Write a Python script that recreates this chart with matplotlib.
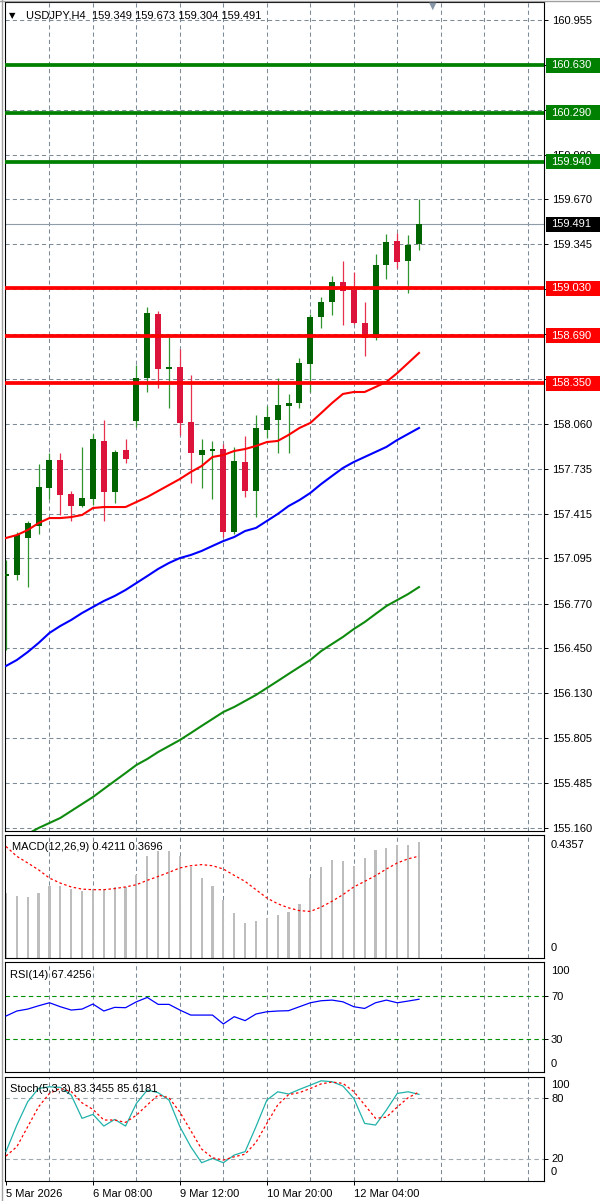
import matplotlib
matplotlib.use('Agg')
import matplotlib.pyplot as plt
import matplotlib.transforms as mtransforms
from matplotlib.patches import Rectangle
from matplotlib.lines import Line2D
import numpy as np

plt.rcParams['font.family'] = ['Liberation Sans', 'DejaVu Sans']

# ---------------- data ----------------
title_text = "USDJPY,H4  159.349 159.673 159.304 159.491"

opens  = [156.967, 156.975, 157.240, 157.326, 157.599, 157.799, 157.555, 157.469, 157.520, 157.936,
          157.570, 157.871, 158.079, 158.387, 158.846, 158.452, 158.466, 158.072, 157.835, 157.864,
          157.878, 157.283, 157.785, 157.577, 158.014, 158.086, 158.187, 158.208, 158.488, 158.825,
          158.933, 159.076, 159.019, 158.782, 158.674, 159.198, 159.370, 159.227, 159.349]
highs  = [157.082, 157.283, 157.362, 157.771, 157.850, 157.850, 157.577, 157.893, 157.986, 158.086,
          157.871, 157.950, 158.481, 158.897, 158.868, 158.681, 158.595, 158.409, 157.950, 157.936,
          157.914, 157.893, 157.971, 158.122, 158.187, 158.387, 158.273, 158.531, 158.846, 158.968,
          159.119, 159.227, 159.148, 158.933, 159.277, 159.420, 159.427, 159.413, 159.673]
lows   = [156.437, 156.939, 156.888, 157.269, 157.520, 157.405, 157.362, 157.464, 157.477, 157.362,
          157.491, 157.778, 158.036, 158.287, 158.316, 158.172, 157.979, 157.634, 157.599, 157.520,
          157.247, 157.270, 157.534, 157.390, 157.957, 157.850, 157.850, 158.172, 158.287, 158.746,
          158.839, 158.768, 158.775, 158.545, 158.660, 159.097, 159.176, 158.997, 159.304]
closes = [156.982, 157.261, 157.347, 157.606, 157.799, 157.548, 157.469, 157.527, 157.950, 157.570,
          157.857, 157.806, 158.387, 158.854, 158.452, 158.466, 158.065, 157.850, 157.871, 157.878,
          157.283, 157.792, 157.577, 158.029, 158.108, 158.194, 158.208, 158.495, 158.825, 158.933,
          159.076, 159.011, 158.782, 158.674, 159.198, 159.363, 159.219, 159.341, 159.491]

ma_red = [157.240, 157.261, 157.297, 157.347, 157.383, 157.383, 157.390, 157.405, 157.455, 157.462,
          157.462, 157.462, 157.498, 157.534, 157.577, 157.620, 157.663, 157.713, 157.756, 157.821,
          157.835, 157.864, 157.878, 157.900, 157.928, 157.936, 157.979, 158.029, 158.065, 158.136,
          158.208, 158.273, 158.287, 158.287, 158.323, 158.359, 158.423, 158.495, 158.567]
ma_blue = [156.322, 156.365, 156.422, 156.487, 156.559, 156.609, 156.652, 156.702, 156.745, 156.788,
           156.824, 156.867, 156.917, 156.967, 157.018, 157.061, 157.096, 157.118, 157.147, 157.183,
           157.218, 157.247, 157.290, 157.312, 157.362, 157.412, 157.469, 157.512, 157.563, 157.627,
           157.685, 157.742, 157.785, 157.821, 157.857, 157.893, 157.943, 157.986, 158.029]
ma_green = [155.038, 155.074, 155.117, 155.160, 155.196, 155.232, 155.282, 155.332, 155.382, 155.440,
            155.497, 155.554, 155.612, 155.655, 155.705, 155.748, 155.791, 155.841, 155.892, 155.942,
            155.992, 156.028, 156.071, 156.114, 156.164, 156.214, 156.265, 156.315, 156.365, 156.429,
            156.480, 156.530, 156.587, 156.637, 156.695, 156.752, 156.795, 156.838, 156.888]

price_grid = [160.955, 160.635, 160.310, 159.990, 159.670, 159.345, 159.025, 158.705, 158.380, 158.060,
              157.735, 157.415, 157.095, 156.770, 156.450, 156.130, 155.805, 155.485, 155.160]
price_grid_labels = ['160.955', '', '', '159.990', '159.670', '159.345', '', '', '', '158.060',
                     '157.735', '157.415', '157.095', '156.770', '156.450', '156.130', '155.805', '155.485', '155.160']

resistance_levels = [160.630, 160.290, 159.940]
support_levels = [159.030, 158.690, 158.350]
last_price = 159.491

macd_main = [0.236, 0.226, 0.220, 0.236, 0.263, 0.260, 0.250, 0.242, 0.250, 0.250,
             0.258, 0.258, 0.300, 0.372, 0.390, 0.388, 0.370, 0.330, 0.290, 0.260,
             0.212, 0.163, 0.127, 0.133, 0.145, 0.157, 0.166, 0.197, 0.290, 0.329,
             0.355, 0.353, 0.335, 0.363, 0.393, 0.400, 0.410, 0.412, 0.4211]
macd_signal = [0.405, 0.369, 0.345, 0.320, 0.290, 0.272, 0.258, 0.250, 0.248, 0.248,
               0.252, 0.258, 0.266, 0.282, 0.296, 0.311, 0.327, 0.335, 0.339, 0.335,
               0.323, 0.300, 0.278, 0.248, 0.218, 0.197, 0.182, 0.172, 0.169, 0.185,
               0.206, 0.230, 0.258, 0.278, 0.299, 0.323, 0.345, 0.360, 0.3696]
macd_label = "MACD(12,26,9) 0.4211 0.3696"
macd_max_label = "0.4357"

rsi_values = [51.7, 56.4, 58.2, 61.3, 64.1, 60.4, 57.3, 58.2, 62.9, 56.4,
              59.8, 59.5, 65.0, 69.1, 62.6, 62.6, 57.3, 52.6, 52.6, 52.6,
              44.3, 51.1, 47.4, 53.6, 55.7, 56.4, 56.7, 60.4, 64.1, 66.0,
              66.6, 65.0, 60.4, 58.8, 64.1, 66.6, 64.1, 65.7, 67.4]
rsi_label = "RSI(14) 67.4256"

stoch_k = [27.5, 53.4, 76.1, 89.1, 90.7, 90.1, 82.6, 59.9, 63.8, 52.4,
           58.9, 52.4, 74.5, 87.5, 84.9, 77.7, 51.8, 32.3, 16.7, 20.9,
           16.7, 24.2, 27.5, 51.8, 77.7, 85.8, 83.6, 88.1, 92.3, 96.5,
           95.6, 91.4, 79.4, 55.0, 53.4, 68.0, 84.2, 85.8, 83.3]
stoch_d = [23.2, 32.3, 51.8, 71.2, 84.2, 89.1, 86.0, 75.0, 68.6, 58.3,
           58.3, 56.0, 63.0, 73.0, 82.6, 80.0, 66.0, 48.0, 30.0, 21.5,
           19.3, 22.5, 25.0, 36.5, 55.0, 73.0, 83.0, 85.0, 89.0, 93.5,
           95.3, 94.0, 86.0, 73.0, 60.0, 61.0, 71.0, 80.0, 85.6]
stoch_label = "Stoch(5,3,3) 83.3455 85.6181"

x_tick_bars = [0, 8, 16, 24, 32]
x_tick_labels = ['5 Mar 2026', '6 Mar 08:00', '9 Mar 12:00', '10 Mar 20:00', '12 Mar 04:00']

# ---------------- layout ----------------
W, H = 600, 1201
fig = plt.figure(figsize=(6, 12.01), dpi=100)
fig.patch.set_facecolor('white')

def rect(x0, y0, x1, y1):
    return [x0 / W, 1 - y1 / H, (x1 - x0) / W, (y1 - y0) / H]

def ptext(x, y, s, **kw):
    return fig.text(x / W, 1 - y / H, s, **kw)

MAIN_TOP, MAIN_BOT = 2, 831
ax = fig.add_axes(rect(5, MAIN_TOP, 544, MAIN_BOT))
axm = fig.add_axes(rect(5, 835, 544, 958))
axr = fig.add_axes(rect(5, 962, 544, 1072))
axs = fig.add_axes(rect(5, 1077, 544, 1181))

GRID_C = '#7D8B99'
FS = 8
XL = (-0.09, 49.5)
n = len(opens)
idx = np.arange(n)
vgrid = np.arange(4, 49, 4)

y_top = 160.955 + (20 - MAIN_TOP) / 139.43
y_bot = 160.955 - (MAIN_BOT - 20) / 139.43
dpp = (y_top - y_bot) / (MAIN_BOT - MAIN_TOP)

for a in (ax, axm, axr, axs):
    a.set_xlim(*XL)
    for s in a.spines.values():
        s.set_color('black')
        s.set_linewidth(0.8)
    for gx in vgrid:
        a.axvline(gx, color=GRID_C, lw=0.75, ls=(0, (4, 3)), zorder=0.5)
    a.tick_params(axis='x', bottom=False, labelbottom=False)
    a.yaxis.tick_right()

# ---- main chart ----
ax.set_ylim(y_bot, y_top)
ax.set_yticks(price_grid)
ax.set_yticklabels(price_grid_labels)
ax.tick_params(axis='y', right=True, left=False, length=3, width=0.7, pad=2.5,
               labelsize=FS, colors='black')
for gy in price_grid:
    ax.axhline(gy, color=GRID_C, lw=0.75, ls=(0, (4, 3)), zorder=0.5)

ax.axhline(last_price, color='#8E9CAA', lw=0.8, zorder=1.5)

for i in idx:
    o, h, l, c = opens[i], highs[i], lows[i], closes[i]
    bull = c >= o
    wick_col = '#2F962F' if bull else '#E8304F'
    body_col = '#006400' if bull else '#DC143C'
    ax.vlines(i, l, h, color=wick_col, lw=0.9, zorder=3)
    hgt = abs(c - o)
    mid = (o + c) / 2
    hgt = max(hgt, 2.0 * dpp)
    ax.bar(i, hgt, bottom=mid - hgt / 2, width=0.55, color=body_col, linewidth=0, zorder=3.2)

ax.plot(idx, ma_red, color='#FF0000', lw=1.5, zorder=4)
ax.plot(idx, ma_blue, color='#0000FF', lw=1.5, zorder=4)
ax.plot(idx, ma_green, color='#0E8A0E', lw=1.5, zorder=4)

for lv in resistance_levels:
    ax.axhline(lv, color='#008000', lw=2.7, zorder=4.5)
for lv in support_levels:
    ax.axhline(lv, color='#FF0000', lw=2.7, zorder=4.5)

trans = mtransforms.blended_transform_factory(fig.transFigure, ax.transData)
box_h = 15 * dpp
def level_box(p, fc, txt):
    r = Rectangle((546 / W, p - box_h / 2), (600 - 546) / W, box_h, transform=trans,
                  facecolor=fc, edgecolor='none', clip_on=False, zorder=6)
    ax.add_patch(r)
    ax.text(551 / W, p, txt, transform=trans, color='white', fontsize=FS,
            va='center', ha='left', zorder=7, clip_on=False)

for lv in resistance_levels:
    level_box(lv, '#008000', f"{lv:.3f}")
for lv in support_levels:
    level_box(lv, '#FF0000', f"{lv:.3f}")
level_box(last_price, '#000000', f"{last_price:.3f}")

# title and shift marker
ptext(9, 16, '\u25BC', fontsize=6, color='black', va='center', ha='left',
      family=['DejaVu Sans'])
ptext(26, 16, title_text, fontsize=FS, color='black', va='center', ha='left')
ptext(433, 6, '\u25BC', fontsize=7, color='#8796A6', va='center', ha='center',
      family=['DejaVu Sans'])

# ---- MACD ----
axm.set_ylim(0, 0.4465)
axm.bar(idx, macd_main, width=0.2, color='#BDBDBD', linewidth=0, zorder=2,
        antialiased=False)
axm.plot(idx, macd_signal, color='#FF0000', lw=0.9, ls=(0, (2, 2)), zorder=3)
axm.set_yticks([])
ptext(12, 847, macd_label, fontsize=FS, va='center', ha='left')
ptext(551, 845, macd_max_label, fontsize=FS, va='center', ha='left')
ptext(551, 948, '0', fontsize=FS, va='center', ha='left')

# ---- RSI ----
axr.set_ylim(-0.6, 102.2)
for lv in (70, 30):
    axr.axhline(lv, color='#009000', lw=0.8, ls=(0, (4, 3)), zorder=1)
axr.plot(idx, rsi_values, color='#0000FF', lw=0.9, zorder=3)
axr.set_yticks([70, 30])
axr.set_yticklabels([])
axr.tick_params(axis='y', right=True, length=3, width=0.7)
ptext(10, 975, rsi_label, fontsize=FS, va='center', ha='left')
for v, yy in (('100', 971), ('70', 997), ('30', 1040), ('0', 1064)):
    ptext(551, yy, v, fontsize=FS, va='center', ha='left')

# ---- Stochastic ----
axs.set_ylim(-1.1, 100.2)
for lv in (80, 20):
    axs.axhline(lv, color='#A0A8B0', lw=0.8, ls=(0, (4, 3)), zorder=1)
axs.plot(idx, stoch_k, color='#20B2AA', lw=0.9, zorder=3)
axs.plot(idx, stoch_d, color='#FF0000', lw=0.9, ls=(0, (2, 2)), zorder=3)
axs.set_yticks([80, 20])
axs.set_yticklabels([])
axs.tick_params(axis='y', right=True, length=3, width=0.7)
ptext(10, 1089, stoch_label, fontsize=FS, va='center', ha='left')
for v, yy in (('100', 1085), ('80', 1099), ('20', 1159), ('0', 1172)):
    ptext(551, yy, v, fontsize=FS, va='center', ha='left')

axs.set_xticks(x_tick_bars)
axs.set_xticklabels(x_tick_labels, ha='left')
axs.tick_params(axis='x', bottom=True, labelbottom=True, length=3, width=0.7,
                labelsize=FS, pad=3)

# window frame lines
fig.add_artist(Line2D([1.5 / W, 1.5 / W], [0, 1], color='#A0A0A0', lw=1.0))
fig.add_artist(Line2D([0, 1], [1 - 0.8 / H, 1 - 0.8 / H], color='#A0A0A0', lw=1.0))

fig.savefig('out.png', dpi=100, facecolor='white')
